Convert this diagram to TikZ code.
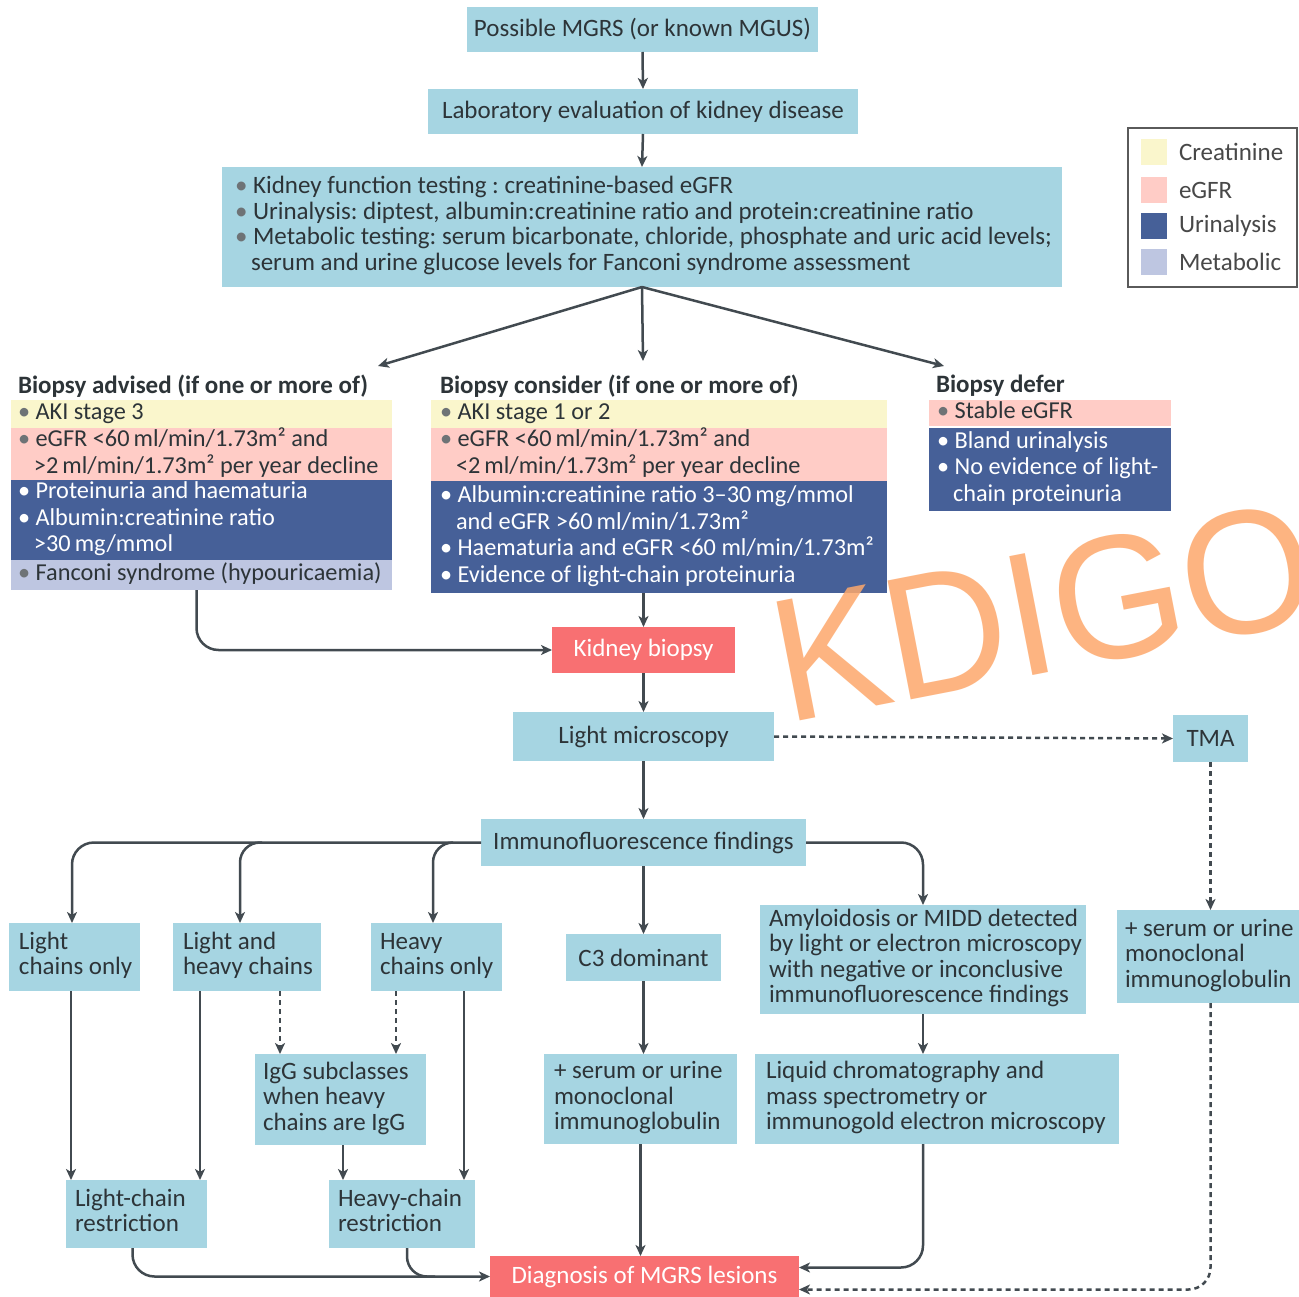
\documentclass[tikz,border=0pt]{standalone}
\usepackage{fontspec}
\setmainfont{Carlito}
\newfontfamily\wmfont{Liberation Sans}
\usetikzlibrary{arrows.meta,calc}
\frenchspacing
\definecolor{lb}{RGB}{166,213,226}
\definecolor{cre}{RGB}{250,246,204}
\definecolor{egfr}{RGB}{255,204,198}
\definecolor{uri}{RGB}{70,96,152}
\definecolor{metab}{RGB}{190,198,225}
\definecolor{redb}{RGB}{248,112,114}
\definecolor{lnc}{RGB}{66,74,80}
\definecolor{tx}{RGB}{45,52,56}
\definecolor{bulc}{RGB}{110,115,118}
\definecolor{legc}{RGB}{90,90,90}
\definecolor{wmc}{RGB}{253,168,108}
\newcommand\bl{\textcolor{bulc}{•}\ }
\newcommand\ind{\hspace*{16pt}}
\newcommand\bx[8][10]{%
 \pgfmathsetmacro\bxW{#5-#3}\pgfmathsetmacro\bxH{#6-#4}%
 \node[#7, minimum width=\bxW pt, minimum height=\bxH pt] (#2) at ({(#3+#5)/2},{(#4+#6)/2}) {\makebox[\bxW pt][l]{\hspace*{#1pt}\begin{tabular}{@{}l@{}}#8\end{tabular}}};}
\newcommand\bxc[7]{%
 \pgfmathsetmacro\bxW{#4-#2}\pgfmathsetmacro\bxH{#5-#3}%
 \node[#6, align=center, minimum width=\bxW pt, minimum height=\bxH pt] (#1) at ({(#2+#4)/2},{(#3+#5)/2}) {#7};}
\tikzset{
 base/.style={inner sep=0pt, outer sep=0pt, font=\fontsize{25}{25.5}\selectfont, text=tx},
 lbox/.style={base, fill=lb},
 redbox/.style={base, fill=redb, text=white},
 rowbox/.style={base, font=\fontsize{24.3}{26.5}\selectfont},
 rcre/.style={rowbox, fill=cre},
 regfr/.style={rowbox, fill=egfr},
 ruri/.style={rowbox, fill=uri, text=white},
 rmeta/.style={rowbox, fill=metab},
 head/.style={base, font=\bfseries\fontsize{25}{27}\selectfont, anchor=west},
 legtext/.style={base, anchor=west, text=legc!80!black},
 arr/.style={draw=lnc, line width=2.5pt, -{Stealth[length=11pt,width=10pt,inset=3pt]}},
 darr/.style={arr, dash pattern=on 5pt off 4pt},
 lnk/.style={draw=lnc, line width=2.5pt},
 wm/.style={inner sep=0pt, font=\wmfont\fontsize{176}{176}\selectfont, text=wmc, text opacity=0.85, anchor=base west, rotate=11}
}
\begin{document}
\begin{tikzpicture}[x=1pt,y=-1pt]
\useasboundingbox (0,0) rectangle (1299,1297);
\fill[white] (0,0) rectangle (1299,1297);
\clip (0,0) rectangle (1299,1297);

% top flow
\bxc{n1}{467}{7}{818}{52}{lbox}{Possible MGRS (or known MGUS)}
\bxc{n2}{428}{89}{858}{134}{lbox}{Laboratory evaluation of kidney disease}
\bx[13]{n3}{222}{167}{1062}{287}{lbox}{\bl Kidney function testing : creatinine-based eGFR\\\bl Urinalysis: diptest, albumin:creatinine ratio and protein:creatinine ratio\\\bl Metabolic testing: serum bicarbonate, chloride, phosphate and uric acid levels;\\\ind serum and urine glucose levels for Fanconi syndrome assessment}

% legend
\bx{leg}{1128}{128}{1297}{287}{base, draw=legc, line width=1.6pt}{}
\bxc{sw1}{1141}{139}{1167}{165}{base, fill=cre}{}
\bxc{sw2}{1141}{177}{1167}{203}{base, fill=egfr}{}
\bxc{sw3}{1141}{213}{1167}{239}{base, fill=uri}{}
\bxc{sw4}{1141}{249}{1167}{275}{base, fill=metab}{}
\node[legtext] (lg1) at (1179,152) {Creatinine};
\node[legtext] (lg2) at (1179,190) {eGFR};
\node[legtext] (lg3) at (1179,226) {Urinalysis};
\node[legtext] (lg4) at (1179,262) {Metabolic};

% headings
\node[head] (h1) at (18,386) {Biopsy advised (if one or more of)};
\node[head] (h2) at (440,386) {Biopsy consider (if one or more of)};
\node[head] (h3) at (936,386) {Biopsy defer};
\coordinate (ea) at (378,366);
\coordinate (ec) at (643,361);
\coordinate (ed) at (944,366);

% left column
\bx[7]{lcre}{11}{400}{392}{428}{rcre}{\bl AKI stage 3}
\bx[7]{legfr}{11}{429}{392}{480}{regfr}{\bl eGFR <60\,ml/min/1.73m² and\\\ind >2\,ml/min/1.73m² per year decline}
\bx[7]{luri}{11}{481}{392}{559}{ruri}{• Proteinuria and haematuria\\• Albumin:creatinine ratio\\\ind >30\,mg/mmol}
\bx[7]{lmeta}{11}{560}{392}{590}{rmeta}{\bl Fanconi syndrome (hypouricaemia)}

% middle column
\bx[9]{mcre}{431}{400}{887}{428}{rcre}{\bl AKI stage 1 or 2}
\bx[9]{megfr}{431}{429}{887}{480}{regfr}{\bl eGFR <60\,ml/min/1.73m² and\\\ind <2\,ml/min/1.73m² per year decline}
\bx[9]{muri}{431}{481}{887}{593}{ruri}{• Albumin:creatinine ratio 3–30\,mg/mmol\\\ind and eGFR >60\,ml/min/1.73m²\\• Haematuria and eGFR <60 ml/min/1.73m²\\• Evidence of light-chain proteinuria}

% right column
\bx[8]{degfr}{929}{400}{1171}{426}{regfr}{\bl Stable eGFR}
\bx[8]{duri}{929}{428}{1171}{511}{ruri}{• Bland urinalysis\\• No evidence of light-\\\ind chain proteinuria}

% lower flow
\bxc{kb}{552}{627}{735}{673}{redbox}{Kidney biopsy}
\bxc{lmic}{513}{712}{774}{761}{lbox}{Light microscopy}
\bxc{tma}{1173}{715}{1248}{762}{lbox}{TMA}
\bxc{ifn}{481}{819}{806}{866}{lbox}{Immunofluorescence findings}
\bx{lco}{9}{923}{140}{991}{lbox}{Light\\chains only}
\bx{lhc}{173}{923}{321}{991}{lbox}{Light and\\heavy chains}
\bx[9]{hco}{371}{923}{502}{991}{lbox}{Heavy\\chains only}
\bxc{c3}{566}{934}{721}{981}{lbox}{C3 dominant}
\bx[9]{amy}{760}{905}{1086}{1014}{lbox}{Amyloidosis or MIDD detected\\by light or electron microscopy\\with negative or inconclusive\\immunofluorescence findings}
\bx[8]{rs}{1117}{910}{1299}{1003}{lbox}{+ serum or urine\\monoclonal\\immunoglobulin}
\bx[8]{igg}{255}{1054}{426}{1145}{lbox}{IgG subclasses\\when heavy\\chains are IgG}
\bx{ms}{544}{1054}{737}{1144}{lbox}{+ serum or urine\\monoclonal\\immunoglobulin}
\bx[11]{lq}{755}{1054}{1119}{1144}{lbox}{Liquid chromatography and\\mass spectrometry or\\immunogold electron microscopy}
\bx[9]{lcr}{66}{1180}{207}{1248}{lbox}{Light-chain\\restriction}
\bx[9]{hcr}{329}{1180}{475}{1248}{lbox}{Heavy-chain\\restriction}
\bxc{dg}{490}{1256}{799}{1297}{redbox}{Diagnosis of MGRS lesions}

% connectors
\draw[arr] (n1.south) -- (n2.north);
\draw[arr] (n2.south) -- (n3.north);
\draw[arr] (n3.south) -- (ea);
\draw[arr] (n3.south) -- (ec);
\draw[arr] (n3.south) -- (ed);
\draw[arr] (kb.north |- muri.south) -- (kb.north);
\draw[arr, rounded corners=22pt] ([xshift=-5pt]lmeta.south) |- (kb.west);
\draw[arr] (kb.south) -- (lmic.north);
\draw[darr] (lmic.east) -- (tma.west);
\draw[arr] (lmic.south) -- (ifn.north);
\draw[arr, rounded corners=22pt] (ifn.west) -| ([xshift=-2.5pt]lco.north);
\draw[arr, rounded corners=20pt] ($(ifn.west -| lhc.north)+(15,0)$) -| ([xshift=-7pt]lhc.north);
\draw[arr, rounded corners=20pt] ($(ifn.west -| hco.north)+(16,0)$) -| ([xshift=-3.5pt]hco.north);
\draw[arr, rounded corners=22pt] (ifn.east) -| (amy.north);
\draw[arr] (ifn.south) -- (c3.north);
\draw[darr] (tma.south) -- (tma.south |- rs.north);
\draw[darr] ($(lhc.south west)+(107,0)$) coordinate (d1) -- (d1 |- igg.north);
\draw[darr] ($(hco.south west)+(25,0)$) coordinate (d2) -- (d2 |- igg.north);
\draw[arr] ($(lco.south west)+(62,0)$) coordinate (v1) -- (v1 |- lcr.north);
\draw[arr] ($(lhc.south west)+(27,0)$) coordinate (v2) -- (v2 |- lcr.north);
\draw[arr] ($(igg.south west)+(88,0)$) coordinate (v3) -- (v3 |- hcr.north);
\draw[arr] ($(hco.south west)+(93,0)$) coordinate (v4) -- (v4 |- hcr.north);
\draw[arr] (c3.south) -- (c3.south |- ms.north);
\draw[arr] (amy.south) -- (amy.south |- lq.north);
\draw[arr, rounded corners=22pt] ([xshift=-4pt]lcr.south) |- (dg.west);
\draw[lnk, rounded corners=20pt] ([xshift=5pt]hcr.south) |- ($(dg.west)+(-55,0)$);
\draw[arr] (ms.south) -- (ms.south |- dg.north);
\draw[arr, rounded corners=22pt] (amy.south |- lq.south) |- ($(dg.east)+(0,-9)$);
\draw[darr, rounded corners=22pt] (tma.south |- rs.south) |- ($(dg.east)+(0,13)$);

% watermark
\node[wm] (kd) at (786,724) {\scalebox{0.965}[1]{KDIGO}};
\end{tikzpicture}
\end{document}
